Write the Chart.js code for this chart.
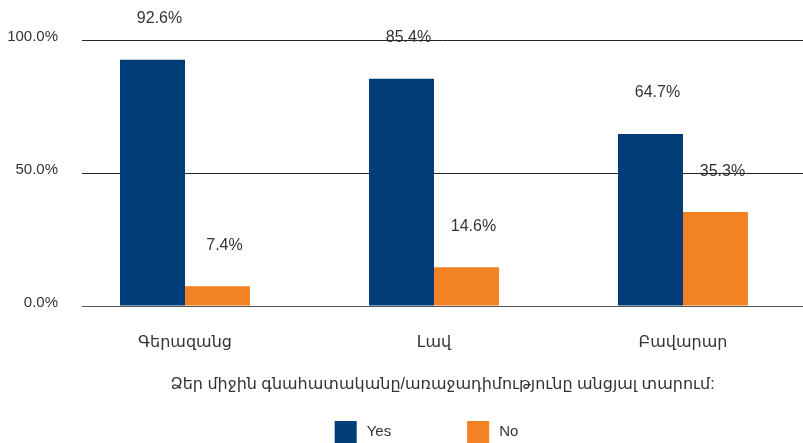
<!DOCTYPE html>
<html><head><meta charset="utf-8">
<script src="https://cdn.jsdelivr.net/npm/chart.js@4"></script>
<style>html,body{margin:0;padding:0;background:#fff;}#wrap{width:803px;height:443px;}</style>
</head><body><div id="wrap"><canvas id="c" width="803" height="443"></canvas></div>
<script>
const categories = ['Գերազանց', 'Լավ', 'Բավարար'];
const seriesNames = ['Yes', 'No'];
const yesValues = [92.6, 85.4, 64.7];
const noValues = [7.4, 14.6, 35.3];
const yTickValues = [0, 50, 100];
const axisTitle = 'Ձեր միջին գնահատականը/առաջադիմությունը անցյալ տարում:';

const FONT = '"Liberation Sans", "DejaVu Sans", sans-serif';
const TEXT = '#333333';
const colors = ['#003D78', '#F28224'];

const valueLabels = {
  id: 'valueLabels',
  afterDatasetsDraw(chart) {
    const ctx = chart.ctx;
    ctx.save();
    ctx.font = '16px ' + FONT;
    ctx.fillStyle = TEXT;
    ctx.textAlign = 'center';
    ctx.textBaseline = 'middle';
    chart.data.datasets.forEach((ds, di) => {
      chart.getDatasetMeta(di).data.forEach((el, i) => {
        const v = ds.data[i].y;
        ctx.fillText(v.toFixed(1) + '%', el.x + 7, el.y - 41);
      });
    });
    ctx.restore();
  }
};

const bottomLegend = {
  id: 'bottomLegend',
  afterDraw(chart) {
    const ctx = chart.ctx;
    ctx.save();
    ctx.font = '15px ' + FONT;
    ctx.textBaseline = 'middle';
    ctx.textAlign = 'left';
    const box = 22, gapText = 10, gapItem = 76;
    const items = chart.data.datasets.map(d => ({text: d.label, color: d.backgroundColor, w: box + gapText + ctx.measureText(d.label).width}));
    const total = items.reduce((s, it) => s + it.w, 0) + gapItem * (items.length - 1);
    const cx = (chart.chartArea.left + chart.chartArea.right) / 2 - 16;
    let x = cx - total / 2;
    const cy = 432;
    items.forEach(it => {
      ctx.fillStyle = it.color;
      ctx.fillRect(x, cy - box / 2, box, box);
      ctx.fillStyle = TEXT;
      ctx.fillText(it.text, x + box + gapText, cy);
      x += it.w + gapItem;
    });
    ctx.restore();
  }
};

new Chart(document.getElementById('c'), {
  type: 'bar',
  data: {
    datasets: [
      {label: seriesNames[0], data: yesValues.map((v, i) => ({x: i, y: v})), backgroundColor: colors[0]},
      {label: seriesNames[1], data: noValues.map((v, i) => ({x: i, y: v})), backgroundColor: colors[1]}
    ]
  },
  options: {
    responsive: false,
    animation: false,
    devicePixelRatio: 1,
    layout: {padding: {top: 40, left: 7, right: 0, bottom: 46}},
    datasets: {bar: {categoryPercentage: 0.522, barPercentage: 1}},
    scales: {
      x: {
        type: 'linear',
        offset: false,
        min: -0.4137,
        max: 2.482,
        afterBuildTicks: (scale) => { scale.ticks = categories.map((c, i) => ({value: i})); },
        afterFit: (scale) => { scale.height = 91; },
        grid: {display: false, drawTicks: false, offset: false},
        border: {display: false},
        ticks: {
          callback: (v) => categories[v],
          font: {size: 16, family: FONT, lineHeight: 1.15},
          color: TEXT,
          padding: 27,
          maxRotation: 0,
          autoSkip: false
        },
        title: {
          display: true,
          text: axisTitle,
          font: {size: 16, family: FONT, lineHeight: 1.0},
          color: TEXT,
          padding: {top: 0, bottom: 4}
        }
      },
      y: {
        min: 0,
        max: 100,
        afterBuildTicks: (scale) => { scale.ticks = yTickValues.map(v => ({value: v})); },
        afterFit: (scale) => { scale.width = 75; },
        grid: {color: (c) => c.tick && c.tick.value === 0 ? '#555555' : '#222222', lineWidth: 1, drawTicks: false},
        border: {display: false},
        ticks: {
          callback: (v) => v.toFixed(1) + '%',
          font: {size: 15, family: FONT},
          color: TEXT,
          padding: 24,
          labelOffset: -3
        }
      }
    },
    plugins: {legend: {display: false}, tooltip: {enabled: false}}
  },
  plugins: [valueLabels, bottomLegend]
});
</script>
</body></html>
